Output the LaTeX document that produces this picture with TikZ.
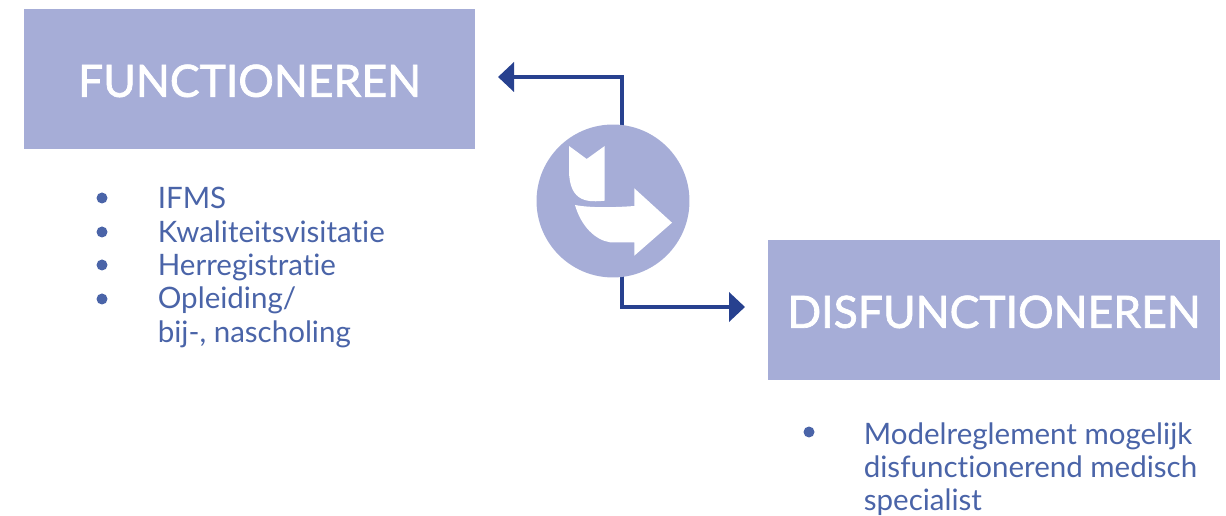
\documentclass[tikz,border=0pt]{standalone}
\usepackage{fontspec}
\setmainfont[Ligatures=NoCommon]{Lato}
\newfontfamily\titlefont[FakeBold=1.6]{Lato}
\usetikzlibrary{arrows.meta, positioning}
\definecolor{boxblue}{HTML}{A6ADD7}
\definecolor{linkblue}{HTML}{27418F}
\definecolor{textblue}{HTML}{4A64A8}
\tikzset{
  titlebox/.style={fill=boxblue, text=white, minimum width=9.04cm, minimum height=2.8cm, inner sep=0pt, text height=.72cm, font=\titlefont\fontsize{25.3}{30}\selectfont},
  listtext/.style={anchor=north west, inner sep=0pt, text=textblue, font=\fontsize{16.8}{19}\selectfont},
  listdot/.style={circle, fill=textblue, inner sep=0pt, minimum size=.22cm},
  flow/.style={draw=linkblue, line width=.095cm, -{Triangle[length=.32cm, width=.58cm]}},
}
\begin{document}
\begin{tikzpicture}[x=.02cm, y=-.02cm]
\useasboundingbox (0,0) rectangle (1226,516);

\node[titlebox] (functioneren) at (249.5,79) {FUNCTIONEREN};
\node[titlebox] (disfunctioneren) at (994,310) {DISFUNCTIONEREN};

\coordinate (upend) at (498,77);
\coordinate (upbend) at (622,77);
\coordinate (downend) at (745,307);
\coordinate (downbend) at (622,307);

\draw[flow] (612,200 -| upbend) -- (upbend) -- (upend);
\draw[flow] (612,200 -| downbend) -- (downbend) -- (downend);

\node[circle, fill=boxblue, minimum size=3.06cm, inner sep=0pt] (change) at (613,201) {};

% icon in the circle
\fill[white] (569,146) -- (586.7,159) -- (604.7,146) -- (604.7,200.7)
  .. controls (590,202) and (569,204) .. (569,170) -- cycle;
\fill[white] (575,205) .. controls (590,208) and (615,207.5) .. (634.3,206)
  -- (634.3,188.3) -- (672,222.7) -- (634.3,255.7) -- (634.3,242.3) -- (610,242.3)
  .. controls (595,240) and (581,226) .. cycle;

\node[listdot] (dota) at (102,198) {};
\node[listdot] (dotb) at (102,232) {};
\node[listdot] (dotc) at (102,265) {};
\node[listdot] (dotd) at (102,299) {};
\node[listtext] (listleft) at (157.5,187) {
\begin{minipage}{6cm}
IFMS\\
Kwaliteitsvisitatie\\
Herregistratie\\
Opleiding/\\
bij-, nascholing
\end{minipage}
};

\node[listdot] (dote) at (809,432) {};
\node[listtext] (listright) at (863.5,422) {
\begin{minipage}{7.2cm}
Modelreglement mogelijk\\
disfunctionerend medisch\\
specialist
\end{minipage}
};

\end{tikzpicture}
\end{document}
